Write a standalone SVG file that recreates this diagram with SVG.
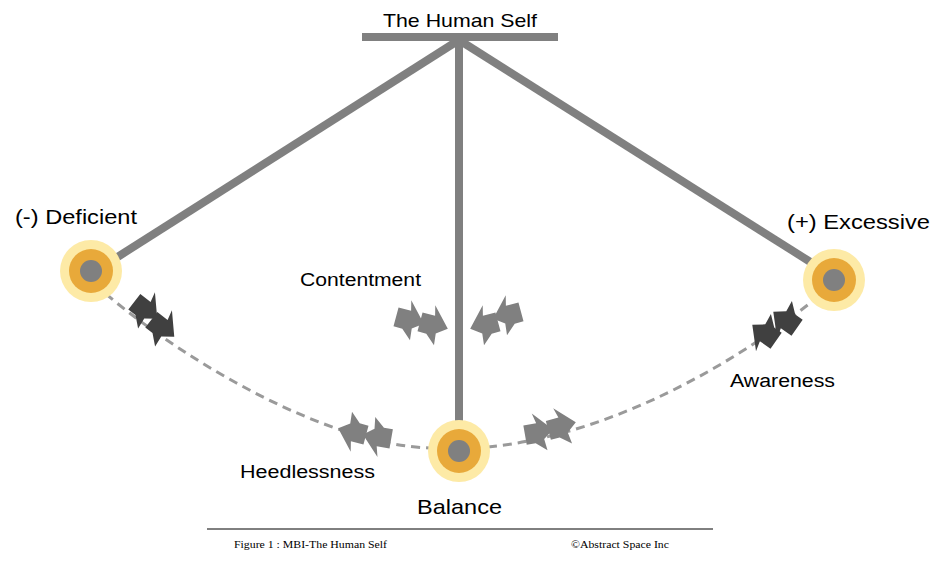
<svg xmlns="http://www.w3.org/2000/svg" width="950" height="561" viewBox="0 0 950 561">
<style>
.rod{stroke:#808080;stroke-width:8;fill:none}
.dash{stroke:#9a9a9a;stroke-width:3;fill:none;stroke-dasharray:9 6}
.outer{fill:#fdeaa6}
.mid{fill:#e8a93a}
.inner{fill:#808080}
.dk{fill:#404040}
.md{fill:#808080}
.lbl{font-family:"Liberation Sans",Arial,sans-serif;fill:#000}
.ft{font-family:"Liberation Serif","Times New Roman",serif;font-size:11px;fill:#000}
</style>
<defs>
<path id="arr" d="M-11,-7 L-1,-7 L-3,-15 L11,0 L3,6 L4,15 L-4,8 L-11,8 Z"/>
</defs>
<rect width="950" height="561" fill="#fff"/>
<g id="connectors">
<line class="rod" x1="362" y1="37" x2="558" y2="37"/>
<line class="rod" x1="459" y1="40" x2="459" y2="424"/>
<line class="rod" x1="459" y1="40" x2="116" y2="258"/>
<line class="rod" x1="459" y1="40" x2="812" y2="263"/>
<path class="dash" d="M106,294 C190,365 330,445 430,448"/>
<path class="dash" d="M488,447 C600,436 720,375 814,300"/>
</g>
<g id="arrows">
<use href="#arr" class="dk" transform="translate(146,310) rotate(38) scale(1.3)"/>
<use href="#arr" class="dk" transform="translate(163,328) rotate(38) scale(1.3)"/>
<use href="#arr" class="dk" transform="translate(764,333) rotate(215) scale(1.3)"/>
<use href="#arr" class="dk" transform="translate(785,320) rotate(215) scale(1.3)"/>
<use href="#arr" class="md" transform="translate(352,432) rotate(195) scale(1.3)"/>
<use href="#arr" class="md" transform="translate(377,437) rotate(190) scale(1.3)"/>
<use href="#arr" class="md" transform="translate(539,432) rotate(-10) scale(1.3)"/>
<use href="#arr" class="md" transform="translate(562,426) rotate(-15) scale(1.3)"/>
<use href="#arr" class="md" transform="translate(410,320) rotate(15) scale(1.3)"/>
<use href="#arr" class="md" transform="translate(434,325) rotate(15) scale(1.3)"/>
<use href="#arr" class="md" transform="translate(484,325) scale(-1,1) rotate(15) scale(1.3)"/>
<use href="#arr" class="md" transform="translate(507,315) scale(-1,1) rotate(15) scale(1.3)"/>
</g>
<g id="node-deficient">
<circle class="outer" cx="91" cy="271" r="31"/>
<circle class="mid" cx="91" cy="271" r="22"/>
<circle class="inner" cx="91" cy="271" r="11"/>
<text class="lbl" x="15" y="224" font-size="21" textLength="122" lengthAdjust="spacingAndGlyphs">(-) Deficient</text>
</g>
<g id="node-excessive">
<circle class="outer" cx="834" cy="280" r="31"/>
<circle class="mid" cx="834" cy="280" r="22"/>
<circle class="inner" cx="834" cy="280" r="11"/>
<text class="lbl" x="787" y="229" font-size="21" textLength="143" lengthAdjust="spacingAndGlyphs">(+) Excessive</text>
</g>
<g id="node-balance">
<circle class="outer" cx="459" cy="451" r="31"/>
<circle class="mid" cx="459" cy="451" r="22"/>
<circle class="inner" cx="459" cy="451" r="11"/>
<text class="lbl" x="417" y="514" font-size="21" textLength="85" lengthAdjust="spacingAndGlyphs">Balance</text>
</g>
<g id="node-self">
<text class="lbl" x="383" y="27" font-size="19" textLength="154" lengthAdjust="spacingAndGlyphs">The Human Self</text>
</g>
<g id="labels">
<text class="lbl" x="300" y="286" font-size="18" textLength="121" lengthAdjust="spacingAndGlyphs">Contentment</text>
<text class="lbl" x="730" y="387" font-size="18" textLength="105" lengthAdjust="spacingAndGlyphs">Awareness</text>
<text class="lbl" x="240" y="478" font-size="18" textLength="135" lengthAdjust="spacingAndGlyphs">Heedlessness</text>
</g>
<g id="footer">
<line x1="207" y1="529" x2="713" y2="529" stroke="#000" stroke-width="1"/>
<text class="ft" x="234" y="548" textLength="153" lengthAdjust="spacingAndGlyphs">Figure 1 : MBI-The Human Self</text>
<text class="ft" x="571" y="548" textLength="98" lengthAdjust="spacingAndGlyphs">©Abstract Space Inc</text>
</g>
</svg>
